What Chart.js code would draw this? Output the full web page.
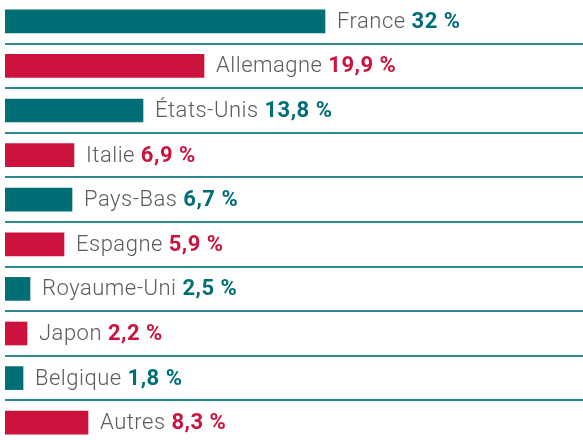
<!DOCTYPE html>
<html>
<head>
<meta charset="utf-8">
<script src="https://cdn.jsdelivr.net/npm/chart.js@4"></script>
<style>
html,body{margin:0;padding:0;background:#fff;overflow:hidden;}
#wrap{position:absolute;left:0;top:-1px;width:583px;height:446px;}
</style>
</head>
<body>
<div id="wrap"><canvas id="c"></canvas></div>
<script>
const categories = ["France","Allemagne","États-Unis","Italie","Pays-Bas","Espagne","Royaume-Uni","Japon","Belgique","Autres"];
const values = [32,19.9,13.8,6.9,6.7,5.9,2.5,2.2,1.8,8.3];
const valueLabels = ["32 %","19,9 %","13,8 %","6,9 %","6,7 %","5,9 %","2,5 %","2,2 %","1,8 %","8,3 %"];
const TEAL = "#006e76";
const RED = "#cc133d";
const colors = categories.map((_, i) => i % 2 === 0 ? TEAL : RED);

const labelPlugin = {
  id: "rowLabels",
  afterDatasetsDraw(chart) {
    const ctx = chart.ctx;
    const meta = chart.getDatasetMeta(0);
    ctx.save();
    ctx.textBaseline = "middle";
    ctx.letterSpacing = "0.5px";
    meta.data.forEach((bar, i) => {
      let x = bar.x + 12;
      const y = bar.y + 1;
      ctx.font = "300 22px Roboto";
      ctx.fillStyle = "#5b5b5b";
      const name = categories[i] + " ";
      ctx.fillText(name, x, y);
      x += ctx.measureText(name).width;
      ctx.font = "bold 22px Roboto";
      ctx.fillStyle = colors[i];
      ctx.fillText(valueLabels[i], x, y);
    });
    ctx.restore();
  }
};

new Chart(document.getElementById("c"), {
  type: "bar",
  data: {
    labels: categories,
    datasets: [{ data: values, backgroundColor: colors, barThickness: 23, borderWidth: 0 }]
  },
  options: {
    indexAxis: "y",
    responsive: true,
    maintainAspectRatio: false,
    animation: false,
    layout: { padding: { left: 5, right: 0, top: 0, bottom: 0 } },
    plugins: { legend: { display: false }, tooltip: { enabled: false } },
    scales: {
      x: { min: 0, max: 57.8, display: false },
      y: {
        display: true,
        offset: true,
        ticks: { display: false },
        border: { display: false },
        grid: {
          offset: true,
          drawTicks: false,
          lineWidth: 2,
          color: (c) => c.index === 0 ? "rgba(0,0,0,0)" : "#2b8a90"
        }
      }
    }
  },
  plugins: [labelPlugin]
});
</script>
</body>
</html>
